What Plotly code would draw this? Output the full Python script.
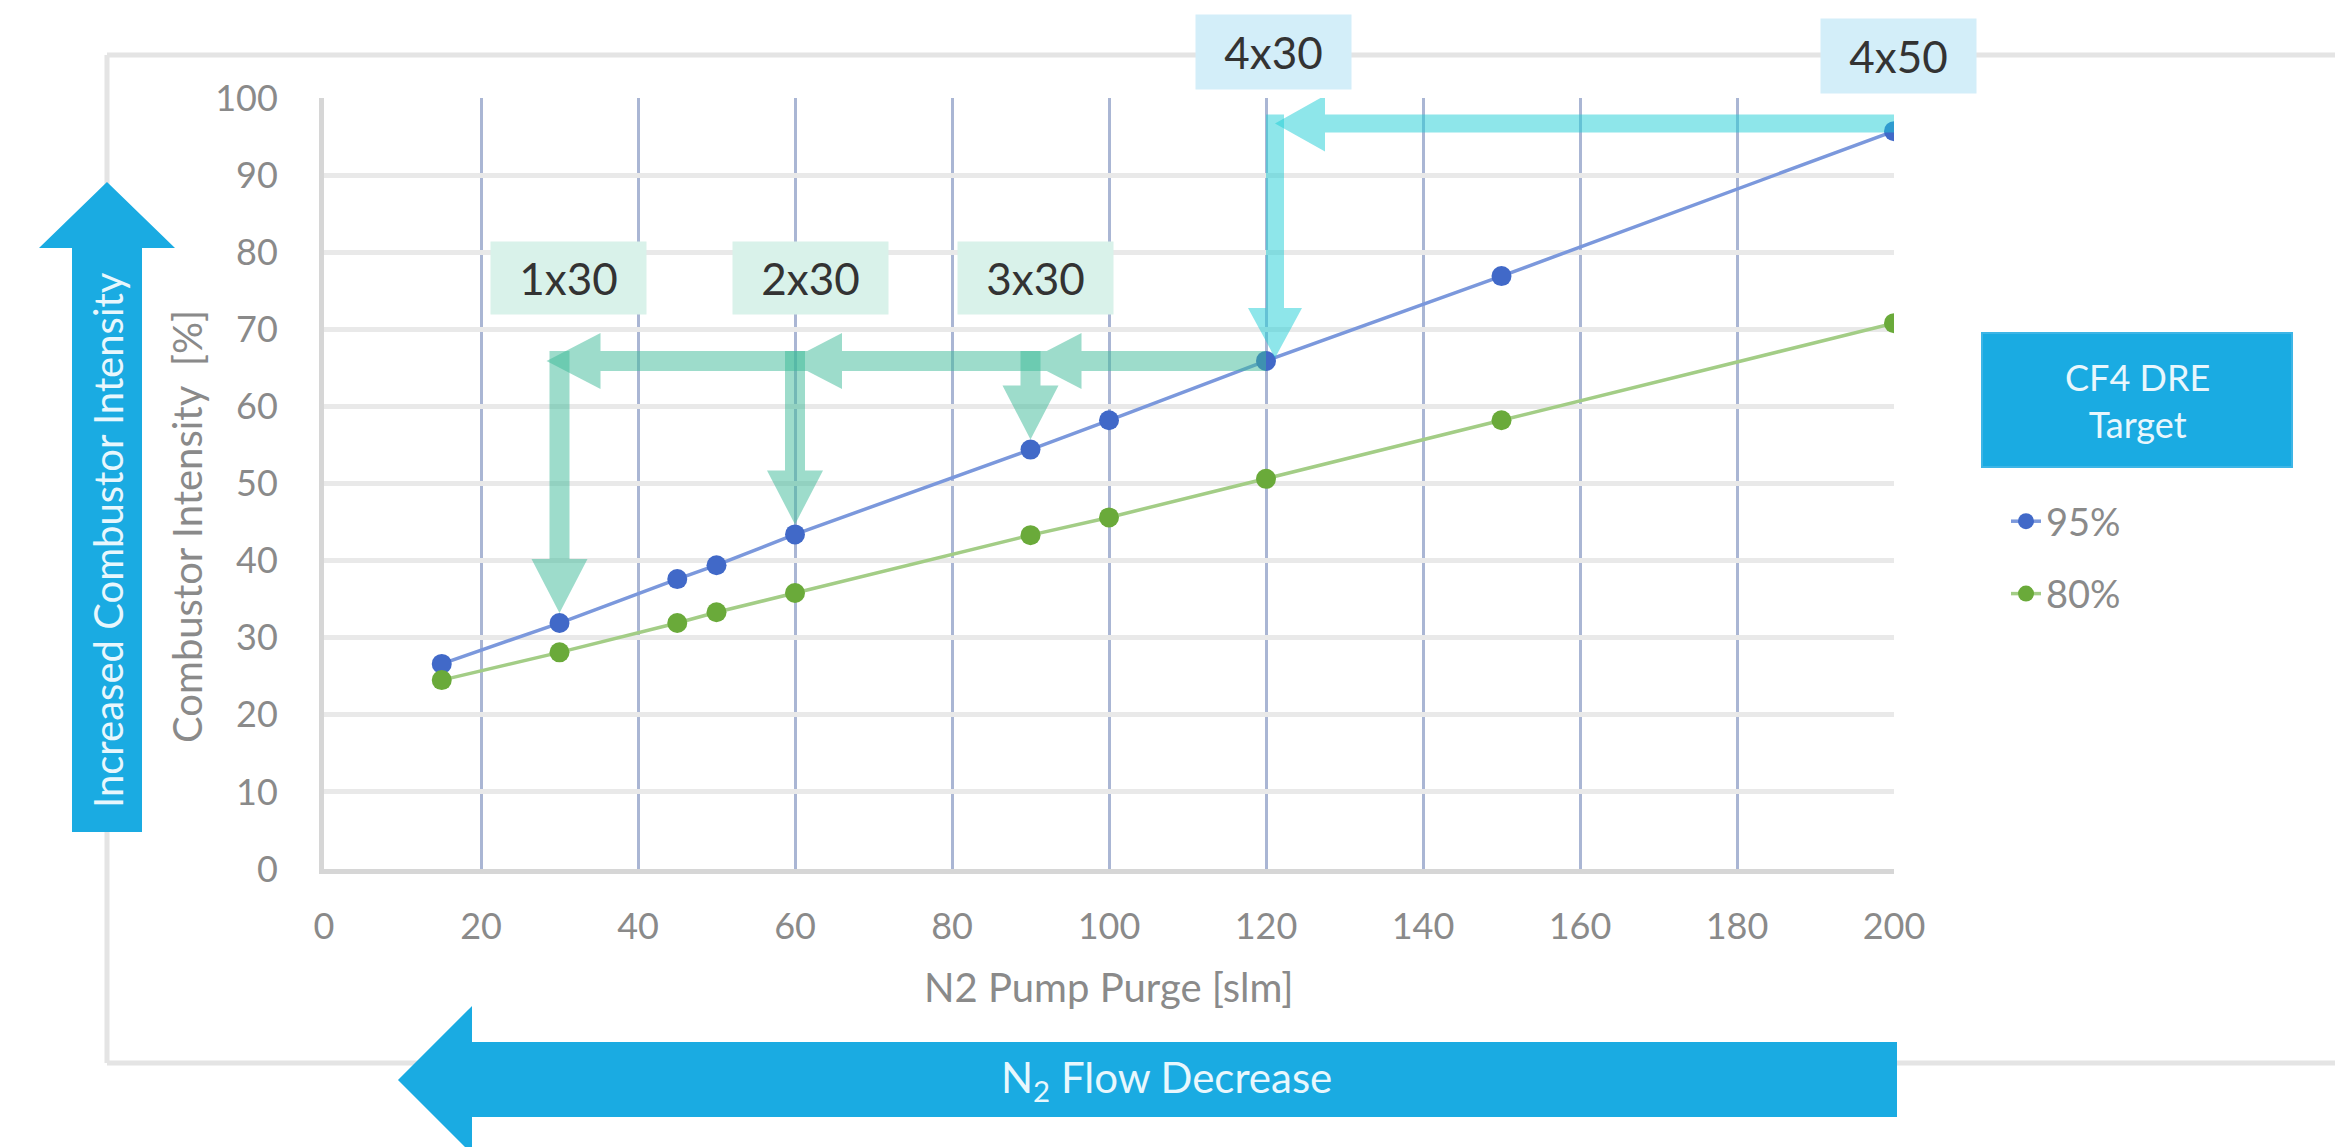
import plotly.graph_objects as go

# ---------------- data ----------------
purge_slm = [15, 30, 45, 50, 60, 90, 100, 120, 150, 200]
dre_95 = [26.6, 31.9, 37.6, 39.4, 43.4, 54.4, 58.2, 65.9, 76.9, 95.7]
dre_80 = [24.5, 28.1, 31.9, 33.3, 35.8, 43.3, 45.6, 50.6, 58.2, 70.8]
series_names = ["95%", "80%"]
x_tick_vals = [0, 20, 40, 60, 80, 100, 120, 140, 160, 180, 200]
y_tick_vals = [0, 10, 20, 30, 40, 50, 60, 70, 80, 90, 100]
step_labels = ["1x30", "2x30", "3x30"]
step_purge = [30, 60, 90]
upgrade_labels = ["4x30", "4x50"]
upgrade_purge = [120, 200]

# ---------------- canvas geometry ----------------
W, H = 2335, 1147
PL, PR, PT, PB = 324, 1894, 98, 869          # plot area in pixels
X_RANGE = (0, 200)
Y_RANGE = (0, 100)
FONT = "Lato, 'Open Sans', sans-serif"
BLUE = "#1aabe2"


def to_px_x(v):
    return PL + (v - X_RANGE[0]) / (X_RANGE[1] - X_RANGE[0]) * (PR - PL)


def to_px_y(v):
    return PB - (v - Y_RANGE[0]) / (Y_RANGE[1] - Y_RANGE[0]) * (PB - PT)


def from_px_x(p):
    return X_RANGE[0] + (p - PL) / (PR - PL) * (X_RANGE[1] - X_RANGE[0])


def from_px_y(p):
    return Y_RANGE[0] + (PB - p) / (PB - PT) * (Y_RANGE[1] - Y_RANGE[0])


def paper_x(p):
    return (p - PL) / (PR - PL)


def paper_y(p):
    return (PB - p) / (PB - PT)


def rect_px(x0, y0, x1, y1):
    return [(x0, y0), (x1, y0), (x1, y1), (x0, y1)]


def head_left(tx, ty, length, half):
    return [(tx, ty), (tx + length, ty - half), (tx + length, ty + half)]


def head_down(tx, ty, length, half):
    return [(tx, ty), (tx - half, ty - length), (tx + half, ty - length)]


def data_path(polys):
    parts = []
    for poly in polys:
        pts = [f"{from_px_x(x):.4f},{from_px_y(y):.4f}" for x, y in poly]
        parts.append("M" + " L".join(pts) + " Z")
    return " ".join(parts)


def paper_path(polys):
    parts = []
    for poly in polys:
        pts = [f"{paper_x(x):.5f},{paper_y(y):.5f}" for x, y in poly]
        parts.append("M" + " L".join(pts) + " Z")
    return " ".join(parts)


def paper_text(text, px, py, size, color, angle=0, **extra):
    return dict(x=paper_x(px), y=paper_y(py), xref="paper", yref="paper",
                xanchor="center", yanchor="middle", text=text, showarrow=False,
                textangle=angle, font=dict(family=FONT, size=size, color=color), **extra)


fig = go.Figure()

series_styles = [
    dict(line=dict(color="#7b98dc", width=3.5), marker=dict(color="#4169c8", size=20)),
    dict(line=dict(color="#a3cd86", width=3.5), marker=dict(color="#6aaa3a", size=20)),
]
for name, values, style in zip(series_names, [dre_95, dre_80], series_styles):
    fig.add_trace(go.Scatter(
        x=purge_slm, y=values, name=name, mode="lines+markers",
        line=style["line"], marker=style["marker"], legendgroup=name,
        hoverinfo="x+y+name",
    ))

shapes = []

# outer frame
frame_kw = dict(type="line", xref="paper", yref="paper", layer="below",
                line=dict(color="#e4e4e4", width=5))
shapes.append(dict(x0=paper_x(107), x1=paper_x(107), y0=paper_y(55), y1=paper_y(1063), **frame_kw))
shapes.append(dict(x0=paper_x(107), x1=paper_x(W + 10), y0=paper_y(55), y1=paper_y(55), **frame_kw))
shapes.append(dict(x0=paper_x(107), x1=paper_x(W + 10), y0=paper_y(1063), y1=paper_y(1063), **frame_kw))

# big direction arrows
up_arrow = [(72, 832), (72, 248), (39, 248), (107, 182), (175, 248), (142, 248), (142, 832)]
left_arrow = [(PR + 3, 1042), (472, 1042), (472, 1006), (398, 1080), (472, 1154), (472, 1117), (PR + 3, 1117)]
for poly in (up_arrow, left_arrow):
    shapes.append(dict(type="path", xref="paper", yref="paper", path=paper_path([poly]),
                       fillcolor=BLUE, line=dict(width=0), layer="above"))

# legend heading box
shapes.append(dict(type="rect", xref="paper", yref="paper",
                   x0=paper_x(1982), x1=paper_x(2292), y0=paper_y(333), y1=paper_y(467),
                   fillcolor=BLUE, line=dict(color="#3db5e6", width=2)))

# green step arrows (added pump stages at 95% target level)
GREEN = "rgba(59,185,151,0.5)"
level_95 = dre_95[purge_slm.index(upgrade_purge[0])]
ly = to_px_y(level_95)
G_T, G_LEN, G_HALF = 20, 54, 28
tip_offsets = [-13, -7, -3]
tips = [to_px_x(s) + o for s, o in zip(step_purge, tip_offsets)]
h_polys = [rect_px(min(tips) + G_LEN / 2, ly - G_T / 2, to_px_x(upgrade_purge[0]), ly + G_T / 2)]
h_polys += [head_left(t, ly, G_LEN, G_HALF) for t in tips]
shapes.append(dict(type="path", xref="x", yref="y", path=data_path(h_polys), fillrule="nonzero",
                   fillcolor=GREEN, line=dict(width=0), layer="above"))
for s in step_purge:
    cx = to_px_x(s)
    tip_y = to_px_y(dre_95[purge_slm.index(s)]) - 10
    v_polys = [rect_px(cx - G_T / 2, ly - G_T / 2, cx + G_T / 2, tip_y - G_LEN + 1),
               head_down(cx, tip_y, G_LEN, G_HALF)]
    shapes.append(dict(type="path", xref="x", yref="y", path=data_path(v_polys), fillrule="nonzero",
                       fillcolor=GREEN, line=dict(width=0), layer="above"))

# cyan arrows (4x30 -> 4x50)
CYAN = "rgba(29,205,213,0.5)"
cyan_level = 96.7
cy = to_px_y(cyan_level)
C_T, C_LEN, C_HALF = 18, 50, 28
vx = to_px_x(upgrade_purge[0]) + 9
ch_polys = [rect_px(vx + C_LEN / 2, cy - C_T / 2, to_px_x(upgrade_purge[1]) + 8, cy + C_T / 2),
            head_left(vx, cy, C_LEN, C_HALF)]
shapes.append(dict(type="path", xref="x", yref="y", path=data_path(ch_polys), fillrule="nonzero",
                   fillcolor=CYAN, line=dict(width=0), layer="above"))
ctip = ly - 3
cv_polys = [rect_px(vx - C_T / 2, cy - C_T / 2, vx + C_T / 2, ctip - C_LEN + 1),
            head_down(vx, ctip, C_LEN, 27)]
shapes.append(dict(type="path", xref="x", yref="y", path=data_path(cv_polys), fillrule="nonzero",
                   fillcolor=CYAN, line=dict(width=0), layer="above"))

annotations = []
step_label_pos = [(31.2, 76.7), (62.0, 76.7), (90.6, 76.7)]
for text, (ax_, ay_) in zip(step_labels, step_label_pos):
    annotations.append(dict(x=ax_, y=ay_, xref="x", yref="y", xanchor="center", yanchor="middle",
                            text=text, showarrow=False,
                            bgcolor="#d9f2ea", width=155, height=72, borderpad=0,
                            font=dict(family=FONT, size=44, color="#333333")))
# stage labels above the plot area (placed via paper coordinates so they stay visible)
upgrade_label_pos = [(121.0, 106.0), (200.6, 105.4)]
for text, (ax_, ay_) in zip(upgrade_labels, upgrade_label_pos):
    annotations.append(paper_text(text, to_px_x(ax_), to_px_y(ay_), 44, "#333333",
                                  bgcolor="#d3eef9", width=155, height=74, borderpad=0))

# axis titles
annotations.append(paper_text("N2 Pump Purge [slm]", 1109, 987, 40, "#8a8a8a"))
annotations.append(paper_text("Combustor Intensity\u00a0 [%]", 187, 527, 40, "#8a8a8a", angle=-90))
# arrow captions and legend heading
annotations.append(paper_text("Increased Combustor Intensity", 108, 540, 40, "#e8f7fd", angle=-90))
annotations.append(paper_text("N<sub>2</sub> Flow Decrease", 1166, 1080, 42, "#e8f7fd"))
annotations.append(paper_text("CF4 DRE<br>Target", 2137, 400, 36, "#e8f7fd"))

fig.update_layout(
    width=W, height=H,
    margin=dict(l=PL, r=W - PR, t=PT, b=H - PB, pad=0),
    paper_bgcolor="white", plot_bgcolor="white",
    font=dict(family=FONT),
    shapes=shapes, annotations=annotations,
    showlegend=True,
    legend=dict(x=paper_x(2006), y=paper_y(490), xanchor="left", yanchor="top",
                font=dict(family=FONT, size=38, color="#8a8a8a"),
                bgcolor="rgba(0,0,0,0)", tracegroupgap=20),
    xaxis=dict(range=list(X_RANGE), tickvals=x_tick_vals, showgrid=True,
               gridcolor="#aab6d4", gridwidth=3, zeroline=False,
               showline=True, linecolor="#d6d6d6", linewidth=5,
               ticks="", ticklabelstandoff=22,
               tickfont=dict(family=FONT, size=36, color="#8a8a8a")),
    yaxis=dict(range=list(Y_RANGE), tickvals=y_tick_vals, showgrid=True,
               gridcolor="#e9e9e9", gridwidth=5, zeroline=False,
               showline=True, linecolor="#d6d6d6", linewidth=5,
               ticks="", ticklabelstandoff=34,
               tickfont=dict(family=FONT, size=36, color="#8a8a8a")),
)

fig.write_html("out.html")
